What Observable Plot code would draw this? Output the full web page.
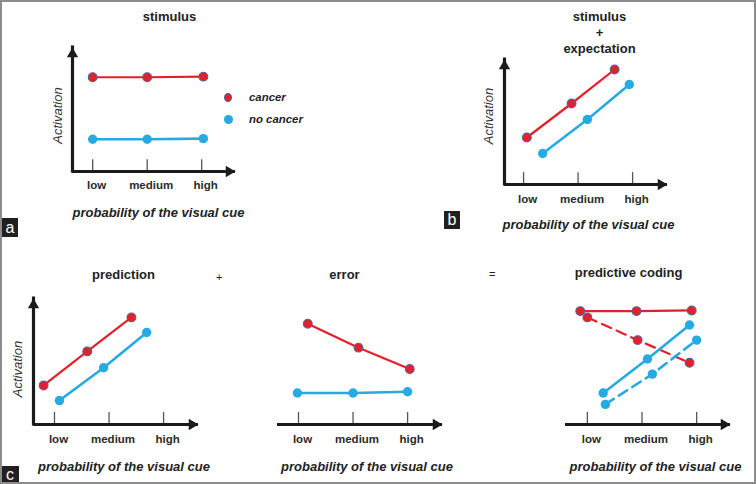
<!DOCTYPE html>
<html>
<head>
<meta charset="utf-8">
<script src="https://cdn.jsdelivr.net/npm/d3@7"></script>
<script src="https://cdn.jsdelivr.net/npm/@observablehq/plot@0.6"></script>
<style>
  body { margin: 0; background: #fff; font-family: "Liberation Sans", Arial, sans-serif; }
  #fig { position: relative; width: 756px; height: 484px; overflow: hidden; background: #fff; }
  #fig svg { position: absolute; overflow: visible; background: transparent; }
  #fig svg g[aria-label="x-axis tick label"] { font-weight: bold; }
  .frame { position: absolute; left: 0; top: 0; width: 756px; height: 484px; box-sizing: border-box; border: 2px solid #8c8c8c; pointer-events: none; }
  .tag { position: absolute; background: #231f20; color: #fff; font-size: 16px; text-align: center; }
  .op { position: absolute; font-size: 11px; color: #222; line-height: 12px; }
  .lgdot { position: absolute; width: 8px; height: 9px; border-radius: 50%; box-sizing: border-box; }
  .lgtxt { position: absolute; font-size: 11.4px; font-weight: bold; font-style: italic; color: #222; line-height: 14px; }
</style>
</head>
<body>
<div id="fig"></div>
<script>
// ---------- data ----------
const cueLabels = ["low", "medium", "high"];
const cueTicks = [0, 1, 2];
const seriesNames = ["cancer", "no cancer"];
const panelTitles = ["stimulus", "stimulus\n+\nexpectation", "prediction", "error", "predictive coding"];
const yLabel = "Activation";
const xLabel = "probability of the visual cue";

// (a) stimulus
const aCancerCue = [0, 1, 2.03];
const aCancerAct = [7.6, 7.6, 7.65];
const aNoCancerCue = [0, 1, 2.03];
const aNoCancerAct = [2.6, 2.6, 2.65];
// (b) stimulus + expectation
const bCancerCue = [0.06, 0.88, 1.67];
const bCancerAct = [3.76, 6.48, 9.2];
const bNoCancerCue = [0.35, 1.17, 1.94];
const bNoCancerAct = [2.48, 5.2, 8.0];
// (c) prediction
const pCancerCue = [-0.2, 0.6, 1.41];
const pCancerAct = [3.1, 5.8, 8.5];
const pNoCancerCue = [0.09, 0.9, 1.69];
const pNoCancerAct = [1.9, 4.5, 7.3];
// (c) error
const eCancerCue = [0.17, 1.1, 2.04];
const eCancerAct = [8.0, 6.1, 4.4];
const eNoCancerCue = [-0.02, 1, 2];
const eNoCancerAct = [2.5, 2.5, 2.6];
// (c) predictive coding
const cCancerSolidCue = [-0.13, 0.9, 1.91];
const cCancerSolidAct = [9.0, 9.0, 9.05];
const cCancerDashCue = [0, 0.92, 1.87];
const cCancerDashAct = [8.5, 6.7, 4.9];
const cNoCancerSolidCue = [0.29, 1.1, 1.87];
const cNoCancerSolidAct = [2.5, 5.2, 7.9];
const cNoCancerDashCue = [0.33, 1.19, 2.0];
const cNoCancerDashAct = [1.6, 4.0, 6.7];

// ---------- styles ----------
const RED = "#e4202a", RED_EDGE = "#55609a", BLUE = "#27a9e1", INK = "#1b1b1b", TXT = "#222";
const FONT = "'Liberation Sans', Arial, sans-serif";

const rows = (xs, ys) => xs.map((x, i) => ({cue: x, activation: ys[i]}));
const red = (x, y, dash) => ({data: rows(x, y), color: RED, width: 2.2, r: 4.4, edge: RED_EDGE, dash});
const blue = (x, y, dash) => ({data: rows(x, y), color: BLUE, width: 2.6, r: 4.7, edge: "none", dash});

function panel(cfg) {
  const [x0, x1] = cfg.xDomain;
  const marks = [];
  // x axis with arrow
  marks.push(Plot.ruleX(cueTicks, {y1: 0, y2: 0.95, stroke: "#555", strokeWidth: 1.3}));
  marks.push(Plot.ruleY([0], {x1: x0, x2: x1, stroke: INK, strokeWidth: 3.2}));
  marks.push(Plot.dot([0], {x: () => x1, y: 0, symbol: "triangle", rotate: 90, r: 4.2, fill: INK, stroke: "none", dx: -6.5}));
  if (cfg.yAxis) {
    marks.push(Plot.ruleX([0], {x: () => x0, y1: 0, y2: 10, stroke: INK, strokeWidth: 3.2, strokeLinecap: "square"}));
    marks.push(Plot.dot([0], {x: () => x0, y: 10, symbol: "triangle", r: 4.2, fill: INK, stroke: "none", dy: 6.5}));
    marks.push(Plot.text([yLabel], {frameAnchor: "left", text: d => d, rotate: -90, dx: cfg.actDx, dy: cfg.actDy,
      textAnchor: "middle", lineAnchor: "middle",
      fontSize: 13, fontStyle: "italic", fill: "#333", fontFamily: FONT}));
  }
  marks.push(Plot.axisX({ticks: cueTicks, tickFormat: i => cueLabels[i], tickSize: 0, tickPadding: cfg.tickPad,
    fontSize: 11.5, fontWeight: "bold", fill: "#2b2b2b", dx: 4, label: null}));
  // series
  for (const s of cfg.series) {
    marks.push(Plot.line(s.data, {x: "cue", y: "activation", stroke: s.color, strokeWidth: s.width,
      strokeDasharray: s.dash ? "10,6" : null}));
  }
  for (const s of cfg.series) {
    marks.push(Plot.dot(s.data, {x: "cue", y: "activation", r: s.r, fill: s.color, stroke: s.edge, strokeWidth: 1.1}));
  }
  // titles
  marks.push(Plot.text([cfg.title], {frameAnchor: "top", text: d => d, dx: cfg.titleDx, dy: cfg.titleDy,
    textAnchor: "middle", lineAnchor: "middle",
    fontSize: 13, fontWeight: "bold", fill: TXT, lineHeight: 1.23, fontFamily: FONT}));
  marks.push(Plot.text([xLabel], {frameAnchor: "bottom", text: d => d, dx: cfg.labDx, dy: cfg.labDy,
    textAnchor: "middle", lineAnchor: "middle",
    fontSize: 13, fontWeight: "bold", fontStyle: "italic", fill: TXT, fontFamily: FONT}));

  return Plot.plot({
    width: cfg.width, height: cfg.height,
    marginLeft: cfg.mL, marginRight: cfg.mR, marginTop: cfg.mT, marginBottom: cfg.mB,
    x: {domain: cfg.xDomain},
    y: {domain: [0, 10], axis: null},
    style: {position: "absolute", left: cfg.left + "px", top: cfg.top + "px", fontFamily: FONT,
      fontSize: "11.5px", background: "transparent", overflow: "visible"},
    marks
  });
}

const panels = [
  {left: 0, top: 0, width: 378, height: 240, mL: 72, mR: 143, mT: 47, mB: 69, xDomain: [-0.37, 2.62], yAxis: true,
   title: panelTitles[0], titleDx: 15.5, titleDy: -31.5, labDx: 4.5, labDy: 41, actDx: -14.5, actDy: 6, tickPad: 9,
   series: [red(aCancerCue, aCancerAct), blue(aNoCancerCue, aNoCancerAct)]},
  {left: 380, top: 0, width: 376, height: 240, mL: 124, mR: 89, mT: 59, mB: 56, xDomain: [-0.35, 2.64], yAxis: true,
   title: panelTitles[1], titleDx: 13.5, titleDy: -28, labDx: 2.5, labDy: 40, actDx: -16, actDy: -6, tickPad: 10,
   series: [red(bCancerCue, bCancerAct), blue(bNoCancerCue, bNoCancerAct)]},
  {left: 0, top: 240, width: 250, height: 244, mL: 33, mR: 52, mT: 58, mB: 60, xDomain: [-0.385, 2.64], yAxis: true,
   title: panelTitles[2], titleDx: 7.5, titleDy: -25, labDx: 8, labDy: 42, actDx: -16, actDy: 7.5, tickPad: 10,
   series: [red(pCancerCue, pCancerAct), blue(pNoCancerCue, pNoCancerAct)]},
  {left: 250, top: 240, width: 250, height: 244, mL: 27, mR: 58, mT: 58, mB: 60, xDomain: [-0.385, 2.64], yAxis: false,
   title: panelTitles[3], titleDx: -15.5, titleDy: -25, labDx: 7, labDy: 42, tickPad: 10,
   series: [red(eCancerCue, eCancerAct), blue(eNoCancerCue, eNoCancerAct)]},
  {left: 500, top: 240, width: 256, height: 244, mL: 65, mR: 26, mT: 58, mB: 60, xDomain: [-0.4, 2.62], yAxis: false,
   title: panelTitles[4], titleDx: -19.5, titleDy: -27, labDx: 7.5, labDy: 42, tickPad: 10,
   series: [red(cCancerSolidCue, cCancerSolidAct), red(cCancerDashCue, cCancerDashAct, true),
            blue(cNoCancerSolidCue, cNoCancerSolidAct), blue(cNoCancerDashCue, cNoCancerDashAct, true)]}
];

const fig = document.getElementById("fig");
for (const p of panels) fig.appendChild(panel(p));

function el(cls, css, text) {
  const d = document.createElement("div");
  d.className = cls;
  Object.assign(d.style, css);
  if (text != null) d.textContent = text;
  fig.appendChild(d);
  return d;
}
// legend (panel a)
el("lgdot", {left: "224px", top: "92.5px", background: RED, border: "1px solid " + RED_EDGE});
el("lgtxt", {left: "249px", top: "90px"}, seriesNames[0]);
el("lgdot", {left: "223.5px", top: "114.5px", width: "9px", height: "9.5px", background: BLUE});
el("lgtxt", {left: "249px", top: "112px"}, seriesNames[1]);
// operators
el("op", {left: "216px", top: "271px"}, "+");
el("op", {left: "489px", top: "268px"}, "=");
// panel tags
el("tag", {left: "2px", top: "218px", width: "16px", height: "19px", lineHeight: "19px"}, "a");
el("tag", {left: "444px", top: "211px", width: "16px", height: "18px", lineHeight: "18px"}, "b");
el("tag", {left: "1px", top: "466px", width: "18px", height: "18px", lineHeight: "18px"}, "c");
el("frame", {});
</script>
</body>
</html>
